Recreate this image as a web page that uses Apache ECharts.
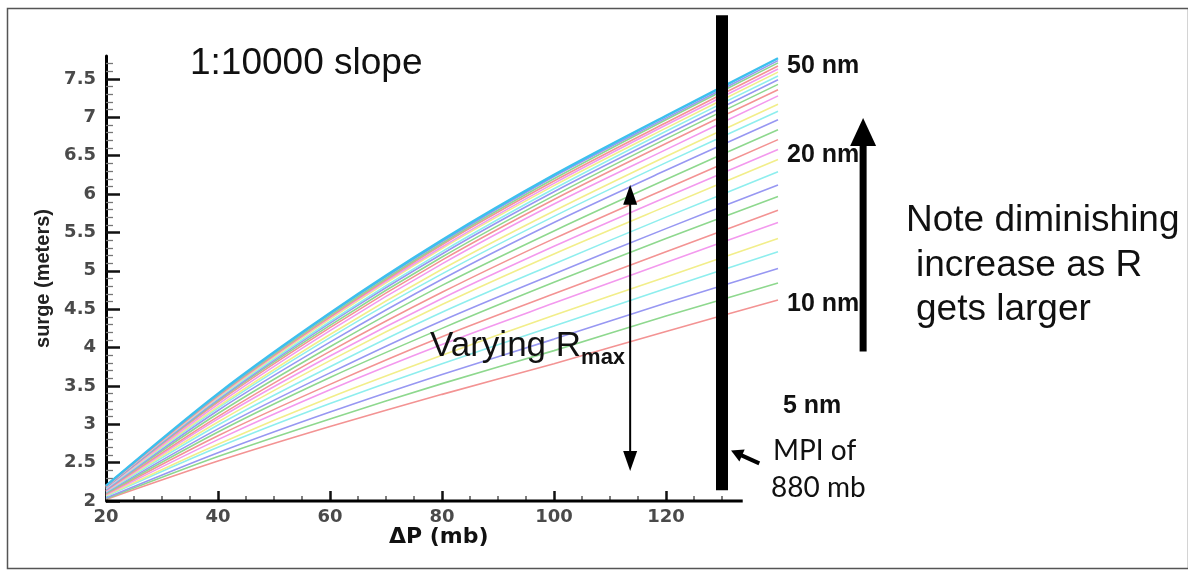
<!DOCTYPE html>
<html>
<head>
<meta charset="utf-8">
<script src="https://cdn.jsdelivr.net/npm/echarts@6/dist/echarts.min.js"></script>
<style>
  html, body { margin: 0; padding: 0; background: #fff; }
  #chart { width: 1188px; height: 571px; }
</style>
</head>
<body>
<div id="chart"></div>
<script>
// Pressure deficit (mb) at which each surge curve is sampled
const deltaP = [20, 40, 60, 80, 100, 120, 140];

// Surge (m) curves, one per radius of maximum winds, smallest Rmax first
const surgeCurves = [
  [2.02, 2.52, 2.97, 3.39, 3.79, 4.21, 4.62],
  [2.03, 2.58, 3.07, 3.53, 3.96, 4.41, 4.84],
  [2.04, 2.63, 3.16, 3.65, 4.11, 4.58, 5.03],
  [2.06, 2.70, 3.27, 3.79, 4.28, 4.77, 5.25],
  [2.07, 2.74, 3.35, 3.90, 4.42, 4.92, 5.42],
  [2.08, 2.80, 3.45, 4.04, 4.58, 5.11, 5.63],
  [2.09, 2.85, 3.52, 4.14, 4.70, 5.25, 5.79],
  [2.10, 2.90, 3.61, 4.25, 4.85, 5.42, 5.97],
  [2.11, 2.94, 3.67, 4.35, 4.96, 5.55, 6.12],
  [2.12, 2.99, 3.75, 4.46, 5.09, 5.70, 6.29],
  [2.13, 3.03, 3.83, 4.56, 5.22, 5.84, 6.45],
  [2.13, 3.07, 3.89, 4.64, 5.32, 5.96, 6.58],
  [2.14, 3.10, 3.95, 4.72, 5.42, 6.07, 6.71],
  [2.15, 3.14, 4.01, 4.81, 5.52, 6.19, 6.84],
  [2.15, 3.18, 4.07, 4.89, 5.63, 6.31, 6.97],
  [2.16, 3.21, 4.13, 4.96, 5.71, 6.41, 7.08],
  [2.17, 3.23, 4.17, 5.02, 5.78, 6.49, 7.17],
  [2.17, 3.26, 4.22, 5.09, 5.87, 6.58, 7.28],
  [2.18, 3.29, 4.26, 5.14, 5.93, 6.66, 7.36],
  [2.18, 3.31, 4.29, 5.18, 5.98, 6.72, 7.43],
  [2.18, 3.32, 4.32, 5.22, 6.03, 6.77, 7.49],
  [2.19, 3.34, 4.34, 5.25, 6.07, 6.82, 7.54],
  [2.19, 3.35, 4.37, 5.29, 6.11, 6.86, 7.59],
  [2.19, 3.36, 4.39, 5.31, 6.14, 6.90, 7.63],
  [2.19, 3.37, 4.40, 5.34, 6.17, 6.93, 7.67],
  [2.20, 3.38, 4.42, 5.36, 6.20, 6.97, 7.71],
  [2.20, 3.39, 4.44, 5.38, 6.23, 6.99, 7.74],
  [2.20, 3.40, 4.45, 5.40, 6.25, 7.02, 7.77]
];

// Axis tick labels
const xTickLabels = [20, 40, 60, 80, 100, 120];
const yTickLabels = [2, 2.5, 3, 3.5, 4, 4.5, 5, 5.5, 6, 6.5, 7, 7.5];

// Line colours cycle through pale red, green, blue, cyan, yellow, magenta
const curveColors = ['#f39393', '#8ed88e', '#9797f2', '#8eeeee', '#f2ee8a', '#f399ee'];
const topCurveColor = '#3cc0ee';

// the drawn x axis stops at AXIS_END; the scale runs further so the
// curve ends and the side notes share the same coordinates
const X_MIN = 20, X_MAX = 160, AXIS_END = 133.7, Y_MIN = 2, Y_MAX = 7.8;

// minor tick positions
const xMinor = [];
for (let v = 25; v <= 130; v += 5) if (v % 20 !== 0) xMinor.push(v);
const yMinor = [];
for (let i = 21; i <= 77; i++) if (i % 5 !== 0) yMinor.push(i / 10);

const FONT = '"Liberation Sans", Arial, Helvetica, sans-serif';
const TICK_FONT = '"DejaVu Sans", Verdana, sans-serif';

const curveSeries = surgeCurves.map((vals, k) => {
  const isTop = k === surgeCurves.length - 1;
  return {
    type: 'line',
    name: 'curve' + k,
    data: deltaP.map((x, i) => [x, vals[i]]),
    smooth: 0.3,
    showSymbol: false,
    symbol: 'none',
    clip: false,
    silent: true,
    z: 2,
    lineStyle: {
      color: isTop ? topCurveColor : curveColors[k % curveColors.length],
      width: isTop ? 2.4 : 1.6
    }
  };
});

const blackLine = (data, width, z) => ({
  type: 'line', data, symbol: 'none', clip: false, silent: true, z: z || 6,
  lineStyle: { color: '#000', width: width, cap: 'butt' }
});
const arrowHead = (data, size, rotate) => ({
  type: 'scatter', data, symbol: 'triangle', symbolSize: size, symbolRotate: rotate || 0,
  clip: false, silent: true, z: 7,
  itemStyle: { color: '#000', opacity: 1 }
});

const annotationSeries = [
  // x axis baseline
  blackLine([[X_MIN, Y_MIN], [AXIS_END, Y_MIN]], 3, 9),
  // MPI limit bar at 130 mb
  blackLine([[130, 2.14], [130, 8.33]], 12, 8),
  // double-headed Rmax arrow
  blackLine([[113.6, 2.55], [113.6, 5.98]], 2),
  arrowHead([[113.6, 5.99]], [14, 20], 0),
  arrowHead([[113.6, 2.52]], [14, 20], 180),
  // large arrow beside the Rmax labels
  blackLine([[155.2, 3.95], [155.2, 6.7]], 7),
  arrowHead([[155.2, 6.81]], [26, 28], 0),
  // pointer from the MPI note to the bar
  blackLine([[136.66, 2.49], [132.7, 2.62]], 4),
  arrowHead([[132.6, 2.625]], [13, 12], 66)
];

const text = (str, x, y, font) => ({
  type: 'text', x: x, y: y, z: 20, silent: true,
  style: { text: str, font: font, fill: '#111', align: 'left', verticalAlign: 'middle' }
});

const chart = echarts.init(document.getElementById('chart'), null, { renderer: 'canvas' });

chart.setOption({
  backgroundColor: '#fff',
  animation: false,
  grid: {
    left: 106, right: 1188 - (106 + (X_MAX - X_MIN) * 5.6), top: 56, bottom: 70,
    containLabel: false, outerBoundsMode: 'none'
  },
  xAxis: [
    {
      type: 'value', min: X_MIN, max: X_MAX, position: 'bottom',
      axisLine: { show: false },
      axisTick: { show: true, inside: true, length: 10, customValues: xTickLabels,
        lineStyle: { color: '#111', width: 2.5 } },
      axisLabel: { show: true, customValues: xTickLabels, margin: 7,
        fontFamily: TICK_FONT, fontWeight: 'bold', fontSize: 18, color: '#4a4a4a' },
      splitLine: { show: false }, minorTick: { show: false }
    },
    {
      type: 'value', min: X_MIN, max: X_MAX, position: 'bottom',
      axisLine: { show: false },
      axisTick: { show: true, inside: true, length: 5, customValues: xMinor,
        lineStyle: { color: '#555', width: 1.5 } },
      axisLabel: { show: false }, splitLine: { show: false }
    }
  ],
  yAxis: [
    {
      type: 'value', min: Y_MIN, max: Y_MAX, position: 'left',
      name: 'surge (meters)', nameLocation: 'middle', nameGap: 52, nameRotate: 90,
      nameTextStyle: { fontFamily: FONT, fontWeight: 'bold', fontSize: 20, color: '#222' },
      axisLine: { show: true, onZero: false, lineStyle: { color: '#000', width: 3 } },
      axisTick: { show: true, inside: true, length: 14, customValues: yTickLabels,
        lineStyle: { color: '#111', width: 2.5 } },
      axisLabel: { show: true, customValues: yTickLabels, margin: 10,
        fontFamily: TICK_FONT, fontWeight: 'bold', fontSize: 18, color: '#4a4a4a' },
      splitLine: { show: false }
    },
    {
      type: 'value', min: Y_MIN, max: Y_MAX, position: 'left',
      axisLine: { show: false },
      axisTick: { show: true, inside: true, length: 7, customValues: yMinor,
        lineStyle: { color: '#777', width: 1.3 } },
      axisLabel: { show: false }, splitLine: { show: false }
    }
  ],
  series: curveSeries.concat(annotationSeries),
  graphic: [
    // outer frame
    { type: 'rect', left: 5, top: 6, z: 0, silent: true,
      shape: { width: 1181, height: 560 },
      style: { fill: 'none', stroke: '#555', lineWidth: 1.5 } },
    // x axis title, centred under 80 mb
    text('ΔP (mb)', 389, 537, 'bold 22px ' + TICK_FONT),
    text('1:10000 slope', 190, 64, 'normal 37px ' + FONT),
    { type: 'text', x: 430, y: 346, z: 20, silent: true,
      style: {
        text: '{a|Varying R}{b|max}',
        align: 'left', verticalAlign: 'middle',
        rich: {
          a: { fontFamily: FONT, fontSize: 35, fill: '#111', color: '#111' },
          b: { fontFamily: FONT, fontSize: 22, fontWeight: 'bold', fill: '#111', color: '#111',
               padding: [24, 0, 0, 0] }
        }
      } },
    text('50 nm', 787, 66, 'bold 25px ' + FONT),
    text('20 nm', 787, 155, 'bold 25px ' + FONT),
    text('10 nm', 787, 304, 'bold 25px ' + FONT),
    text('5 nm', 783, 406, 'bold 25px ' + FONT),
    text('MPI of', 773, 451, 'normal 28px Lato, "Open Sans", sans-serif'),
    text('880 mb', 771, 488, 'normal 28px Lato, "Open Sans", sans-serif'),
    text('Note diminishing', 906, 221, 'normal 37px ' + FONT),
    text('increase as R', 916, 266, 'normal 37px ' + FONT),
    text('gets larger', 916, 310, 'normal 37px ' + FONT)
  ]
});
</script>
</body>
</html>
